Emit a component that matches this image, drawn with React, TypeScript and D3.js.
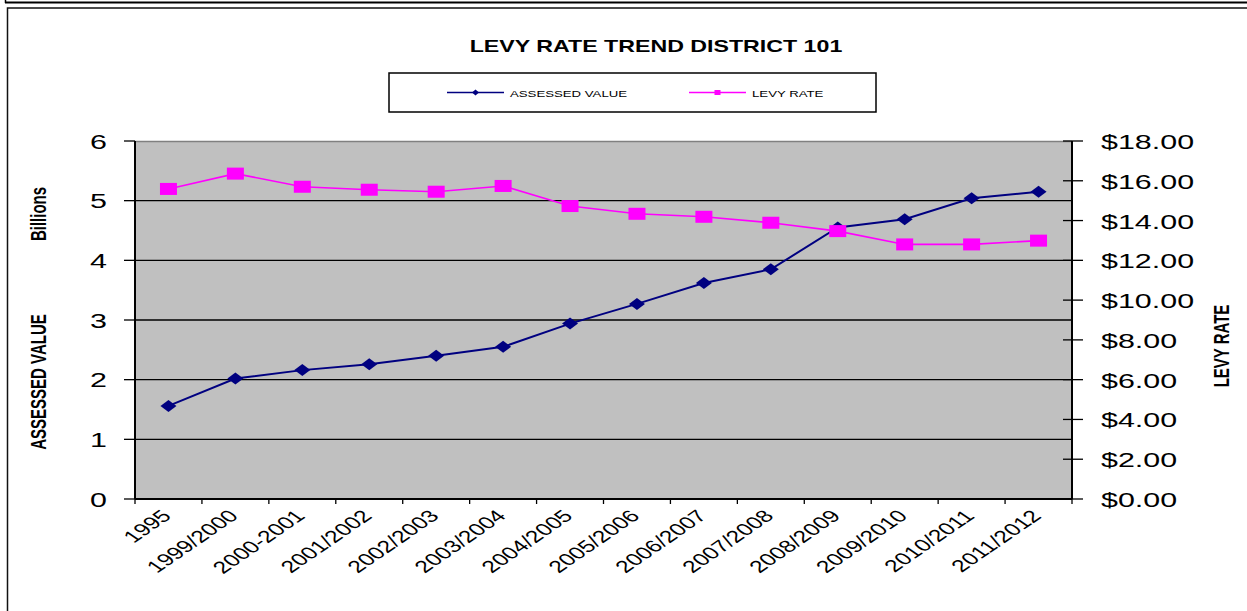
import { useEffect, useRef } from "react";
import * as d3 from "d3";

const categories = [
  "1995",
  "1999/2000",
  "2000-2001",
  "2001/2002",
  "2002/2003",
  "2003/2004",
  "2004/2005",
  "2005/2006",
  "2006/2007",
  "2007/2008",
  "2008/2009",
  "2009/2010",
  "2010/2011",
  "2011/2012",
];

// billions
const assessedValue = [1.56, 2.02, 2.16, 2.26, 2.4, 2.55, 2.94, 3.27, 3.62, 3.85, 4.55, 4.69, 5.04, 5.15];

// dollars
const levyRate = [15.59, 16.36, 15.7, 15.55, 15.45, 15.74, 14.73, 14.34, 14.19, 13.89, 13.47, 12.8, 12.8, 12.99];

const leftTicks = [0, 1, 2, 3, 4, 5, 6];
const rightTicks = [0, 2, 4, 6, 8, 10, 12, 14, 16, 18];

const W = 1247;
const H = 611;
const SX = 1.45; // the original picture is stretched sideways
const FONT = "'Liberation Sans', Arial, sans-serif";
const NAVY = "#000080";
const MAGENTA = "#FF00FF";

type Sel = d3.Selection<SVGGElement, unknown, null, undefined>;

function label(
  g: Sel,
  x: number,
  y: number,
  str: string,
  size: number,
  opts: { weight?: string; anchor?: string; rotate?: number } = {}
) {
  g.append("text")
    .attr("transform", `translate(${x},${y}) scale(${SX},1) rotate(${opts.rotate ?? 0})`)
    .attr("text-anchor", opts.anchor ?? "start")
    .attr("font-family", FONT)
    .attr("font-size", size)
    .attr("font-weight", opts.weight ?? "normal")
    .attr("fill", "#000")
    .text(str);
}

const diamond = (cx: number, cy: number, hw: number, hh: number) =>
  `M${cx},${cy - hh}L${cx + hw},${cy}L${cx},${cy + hh}L${cx - hw},${cy}Z`;

export default function App() {
  const ref = useRef<SVGSVGElement | null>(null);

  useEffect(() => {
    const svg = d3.select(ref.current);
    svg.selectAll("*").remove();
    const root = svg.append("g") as unknown as Sel;

    // frame
    root.append("rect").attr("width", W).attr("height", H).attr("fill", "#fff");
    root.append("line").attr("x1", 5).attr("x2", W).attr("y1", 2.5).attr("y2", 2.5).attr("stroke", "#000").attr("stroke-width", 2);
    root.append("line").attr("x1", 5.5).attr("x2", 5.5).attr("y1", 0).attr("y2", 3).attr("stroke", "#000").attr("stroke-width", 1.5);
    root
      .append("rect")
      .attr("x", 7.5)
      .attr("y", 8)
      .attr("width", W + 10)
      .attr("height", H + 10)
      .attr("fill", "none")
      .attr("stroke", "#111")
      .attr("stroke-width", 1.5);

    const m = { l: 135, r: 1072, t: 141, b: 499 };

    const x = d3.scaleBand<string>().domain(categories).range([m.l, m.r]);
    const yL = d3.scaleLinear().domain([0, 6]).range([m.b, m.t]);
    const yR = d3.scaleLinear().domain([0, 18]).range([m.b, m.t]);
    const cx = (c: string) => (x(c) ?? 0) + x.bandwidth() / 2;

    // title
    label(root, 656, 52, "LEVY RATE TREND DISTRICT 101", 16, { weight: "bold", anchor: "middle" });

    // plot background
    root
      .append("rect")
      .attr("x", m.l)
      .attr("y", m.t)
      .attr("width", m.r - m.l)
      .attr("height", m.b - m.t)
      .attr("fill", "#C0C0C0");
    root.append("line").attr("x1", m.l).attr("x2", m.r).attr("y1", m.t + 0.5).attr("y2", m.t + 0.5).attr("stroke", "#808080").attr("stroke-width", 1.5);

    // gridlines
    leftTicks.slice(1, -1).forEach((t) => {
      root
        .append("line")
        .attr("x1", m.l)
        .attr("x2", m.r)
        .attr("y1", yL(t))
        .attr("y2", yL(t))
        .attr("stroke", "#000")
        .attr("stroke-width", 1.3);
    });

    // left axis
    root.append("line").attr("x1", m.l).attr("x2", m.l).attr("y1", m.t).attr("y2", m.b).attr("stroke", "#000").attr("stroke-width", 2);
    leftTicks.forEach((t) => {
      root.append("line").attr("x1", m.l - 11).attr("x2", m.l).attr("y1", yL(t)).attr("y2", yL(t)).attr("stroke", "#000").attr("stroke-width", 1.3);
      label(root, 107, yL(t) + 7.5, String(t), 21, { anchor: "end" });
    });

    // right axis
    root.append("line").attr("x1", m.r).attr("x2", m.r).attr("y1", m.t).attr("y2", m.b).attr("stroke", "#000").attr("stroke-width", 2);
    const money = d3.format("$.2f");
    rightTicks.forEach((t) => {
      root.append("line").attr("x1", m.r - 9).attr("x2", m.r + 11).attr("y1", yR(t)).attr("y2", yR(t)).attr("stroke", "#000").attr("stroke-width", 1.3);
      label(root, 1101, yR(t) + 8, money(t), 21);
    });

    // bottom axis
    root.append("line").attr("x1", m.l).attr("x2", m.r).attr("y1", m.b).attr("y2", m.b).attr("stroke", "#000").attr("stroke-width", 2);
    categories.forEach((c, i) => {
      const tx = x(c) ?? 0;
      root.append("line").attr("x1", tx).attr("x2", tx).attr("y1", m.b).attr("y2", m.b + 5).attr("stroke", "#000").attr("stroke-width", 1.3);
      if (i === categories.length - 1) {
        root.append("line").attr("x1", m.r).attr("x2", m.r).attr("y1", m.b).attr("y2", m.b + 5).attr("stroke", "#000").attr("stroke-width", 1.3);
      }
      label(root, cx(c) + 4, m.b + 18, c, 17, { anchor: "end", rotate: -45 });
    });

    // axis titles
    label(root, 45.5, 214, "Billions", 15, { weight: "bold", anchor: "middle", rotate: -90 });
    label(root, 45.5, 382, "ASSESSED VALUE", 15, { weight: "bold", anchor: "middle", rotate: -90 });
    label(root, 1228.5, 346, "LEVY RATE", 15, { weight: "bold", anchor: "middle", rotate: -90 });

    // series
    const lineL = d3
      .line<number>()
      .x((_, i) => cx(categories[i]))
      .y((d) => yL(d));
    const lineR = d3
      .line<number>()
      .x((_, i) => cx(categories[i]))
      .y((d) => yR(d));

    root.append("path").attr("d", lineL(assessedValue) ?? "").attr("fill", "none").attr("stroke", NAVY).attr("stroke-width", 2);
    root.append("path").attr("d", lineR(levyRate) ?? "").attr("fill", "none").attr("stroke", MAGENTA).attr("stroke-width", 1.6);

    assessedValue.forEach((v, i) => {
      root.append("path").attr("d", diamond(cx(categories[i]), yL(v), 8, 6)).attr("fill", NAVY);
    });
    levyRate.forEach((v, i) => {
      root
        .append("rect")
        .attr("x", cx(categories[i]) - 8.5)
        .attr("y", yR(v) - 6)
        .attr("width", 17)
        .attr("height", 12)
        .attr("fill", MAGENTA);
    });

    // legend
    root
      .append("rect")
      .attr("x", 389)
      .attr("y", 73)
      .attr("width", 487)
      .attr("height", 39)
      .attr("fill", "#fff")
      .attr("stroke", "#000")
      .attr("stroke-width", 1.5);
    const ly = 92.5;
    root.append("line").attr("x1", 447).attr("x2", 504).attr("y1", ly).attr("y2", ly).attr("stroke", NAVY).attr("stroke-width", 1.5);
    root.append("path").attr("d", diamond(475.5, ly, 3.5, 3)).attr("fill", NAVY);
    label(root, 510, ly + 4, "ASSESSED VALUE", 9.1);
    root.append("line").attr("x1", 689).attr("x2", 746).attr("y1", ly).attr("y2", ly).attr("stroke", MAGENTA).attr("stroke-width", 1.5);
    root.append("rect").attr("x", 714.5).attr("y", ly - 2.5).attr("width", 6).attr("height", 5).attr("fill", MAGENTA);
    label(root, 752, ly + 4, "LEVY RATE", 9.1);
  }, []);

  return (
    <svg
      ref={ref}
      width={W}
      height={H}
      style={{ position: "absolute", left: 0, top: 0, display: "block" }}
    />
  );
}
